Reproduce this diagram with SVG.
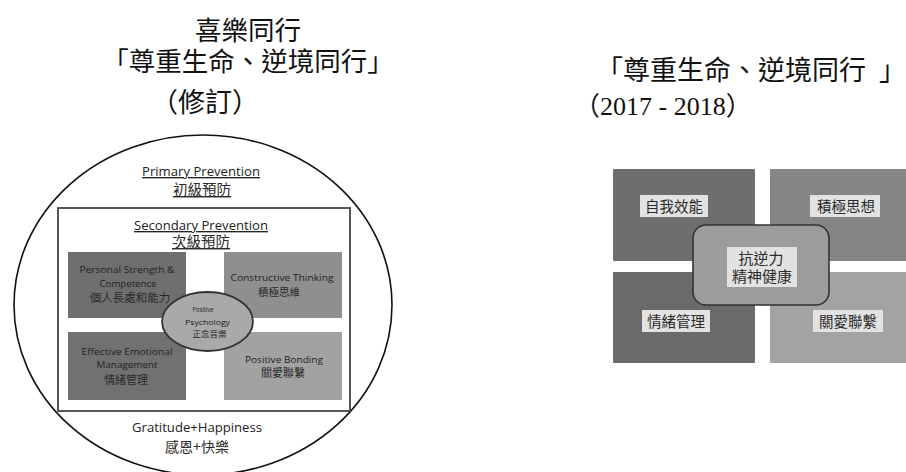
<svg xmlns="http://www.w3.org/2000/svg" width="906" height="472" viewBox="0 0 906 472">
<style>
.cjk{font-family:"Noto Sans CJK TC","Noto Sans CJK SC",sans-serif;fill:#111}
.en{font-family:"Open Sans","Liberation Sans",sans-serif;fill:#222}
.lab{font-family:"Noto Sans CJK TC","Noto Sans CJK SC",sans-serif;fill:#2a2a2a}
.ul{text-decoration:underline}
.quad{stroke:none}
.box{fill:#e2e2e2}
</style>
<rect width="906" height="472" fill="#ffffff"/>

<g id="title-left">
<text class="cjk" x="248" y="40" font-size="26.5" text-anchor="middle">喜樂同行</text>
<text class="cjk" x="248" y="71" font-size="26.5" text-anchor="middle">「尊重生命、逆境同行」</text>
<text class="cjk" x="151" y="112" font-size="27">（修訂）</text>
</g>

<g id="title-right">
<text class="cjk" x="596" y="80" font-size="27">「尊重生命、逆境同行<tspan dx="13">」</tspan></text>
<text x="574" y="115" font-size="26" style="font-family:'Liberation Serif',serif;fill:#111"><tspan class="cjk" font-size="26">（</tspan>2017 - 2018<tspan class="cjk" font-size="26">）</tspan></text>
</g>

<g id="primary-prevention">
<ellipse cx="203" cy="305" rx="189" ry="170" fill="#ffffff" stroke="#111" stroke-width="1.6"/>
<text class="en ul" x="201" y="176" font-size="13.5" text-anchor="middle" textLength="118" lengthAdjust="spacingAndGlyphs">Primary Prevention</text>
<text class="lab ul" x="202" y="195" font-size="14.5" text-anchor="middle">初級預防</text>
<text class="en" x="197" y="432" font-size="13.5" text-anchor="middle" textLength="130" lengthAdjust="spacingAndGlyphs">Gratitude+Happiness</text>
<text class="lab" x="197" y="452" font-size="14" text-anchor="middle">感恩+快樂</text>
</g>

<g id="secondary-prevention">
<rect x="58" y="208" width="292" height="203" fill="#ffffff" stroke="#444" stroke-width="1.8"/>
<text class="en ul" x="201" y="230" font-size="13.5" text-anchor="middle" textLength="134" lengthAdjust="spacingAndGlyphs">Secondary Prevention</text>
<text class="lab ul" x="201" y="247" font-size="14.5" text-anchor="middle">次級預防</text>
</g>

<g id="personal-strength">
<rect class="quad" x="68" y="252" width="118" height="66" fill="#6f6f6f"/>
<text class="en" x="127" y="273" font-size="9.5" text-anchor="middle" textLength="95" lengthAdjust="spacingAndGlyphs">Personal Strength &amp;</text>
<text class="en" x="128" y="287" font-size="9.5" text-anchor="middle" textLength="57" lengthAdjust="spacingAndGlyphs">Competence</text>
<text class="lab" x="130" y="302" font-size="11.5" text-anchor="middle">個人長處和能力</text>
</g>

<g id="constructive-thinking">
<rect class="quad" x="224" y="252" width="118" height="66" fill="#8f8f8f"/>
<text class="en" x="282" y="281" font-size="9.5" text-anchor="middle" textLength="103" lengthAdjust="spacingAndGlyphs">Constructive Thinking</text>
<text class="lab" x="279" y="296" font-size="10.5" text-anchor="middle">積極思維</text>
</g>

<g id="emotional-management">
<rect class="quad" x="68" y="332" width="118" height="68" fill="#717171"/>
<text class="en" x="127" y="355" font-size="9.5" text-anchor="middle" textLength="91" lengthAdjust="spacingAndGlyphs">Effective Emotional</text>
<text class="en" x="127" y="368" font-size="9.5" text-anchor="middle" textLength="61" lengthAdjust="spacingAndGlyphs">Management</text>
<text class="lab" x="126" y="384" font-size="11" text-anchor="middle">情緒管理</text>
</g>

<g id="positive-bonding">
<rect class="quad" x="224" y="332" width="118" height="68" fill="#a2a2a2"/>
<text class="en" x="284" y="363" font-size="9.5" text-anchor="middle" textLength="78" lengthAdjust="spacingAndGlyphs">Positive Bonding</text>
<text class="lab" x="283" y="377" font-size="11" text-anchor="middle">關愛聯繫</text>
</g>

<g id="positive-psychology">
<ellipse cx="207.5" cy="321.5" rx="45.5" ry="29.5" fill="#a9a9a9" stroke="#333" stroke-width="1.8"/>
<text class="en" x="203" y="312" font-size="7" text-anchor="middle" textLength="21" lengthAdjust="spacingAndGlyphs">Positive</text>
<text class="en" x="207.5" y="325" font-size="7.5" text-anchor="middle" textLength="45" lengthAdjust="spacingAndGlyphs">Psychology</text>
<text class="lab" x="209.5" y="337" font-size="8.5" text-anchor="middle">正念音樂</text>
</g>

<g id="self-efficacy">
<rect class="quad" x="613" y="169" width="142" height="92" fill="#6e6e6e"/>
<rect class="box" x="640" y="195" width="68" height="22"/>
<text class="lab" x="674" y="212" font-size="14.5" text-anchor="middle">自我效能</text>
</g>

<g id="positive-thinking">
<rect class="quad" x="770" y="169" width="136" height="92" fill="#858585"/>
<rect class="box" x="810" y="195" width="70" height="22"/>
<text class="lab" x="846" y="212" font-size="14.5" text-anchor="middle">積極思想</text>
</g>

<g id="emotion-management">
<rect class="quad" x="613" y="272" width="142" height="91" fill="#6a6a6a"/>
<rect class="box" x="642" y="310" width="68" height="22"/>
<text class="lab" x="676" y="327" font-size="14.5" text-anchor="middle">情緒管理</text>
</g>

<g id="caring-bonding">
<rect class="quad" x="770" y="272" width="136" height="91" fill="#a3a3a3"/>
<rect class="box" x="813" y="310" width="70" height="22"/>
<text class="lab" x="848" y="327" font-size="14.5" text-anchor="middle">關愛聯繫</text>
</g>

<g id="resilience">
<rect x="693" y="225" width="136" height="80" rx="13" ry="13" fill="#9c9c9c" stroke="#333" stroke-width="1.6"/>
<rect class="box" x="727" y="247" width="70" height="40"/>
<text class="lab" x="761" y="264" font-size="15" text-anchor="middle">抗逆力</text>
<text class="lab" x="762" y="282" font-size="15" text-anchor="middle">精神健康</text>
</g>

<g id="connectors"></g>
</svg>
